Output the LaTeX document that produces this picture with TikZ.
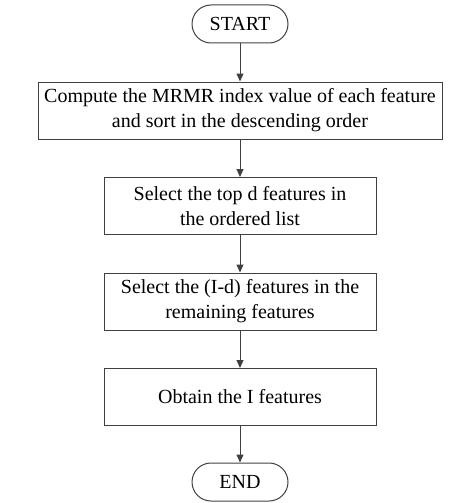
\documentclass[tikz,border=0pt]{standalone}
\usepackage{fontspec}
\setmainfont{Liberation Serif}
\usetikzlibrary{arrows.meta}
\definecolor{linec}{HTML}{404040}
\begin{document}
\begin{tikzpicture}[x=1pt,y=-1pt,
  txt/.style={font=\fontsize{20}{25}\selectfont, text=black},
  box/.style={txt, draw=linec, line width=1pt, minimum width=272pt, minimum height=57pt, align=center, inner sep=0pt},
  pill/.style={txt, draw=linec, line width=1pt, rounded corners=19pt, minimum width=96pt, minimum height=38pt, inner sep=0pt},
  arr/.style={draw=linec, line width=1pt, -{Triangle[length=8pt,width=7pt]}}]
\useasboundingbox (0,0) rectangle (458,503);
\node[pill] (start) at (240,24) {START};
\node[box, minimum width=404pt] (b1) at (240,110.5) {Compute the MRMR index value of each feature\\and sort in the descending order};
\node[box] (b2) at (240,206) {Select the top d features in\\the ordered list};
\node[box] (b3) at (240,301.5) {Select the (I-d) features in the\\remaining features};
\node[box] (b4) at (240,397) {Obtain the I features};
\node[pill] (end) at (240,482) {END};
\draw[arr] (start) -- (b1);
\draw[arr] (b1) -- (b2);
\draw[arr] (b2) -- (b3);
\draw[arr] (b3) -- (b4);
\draw[arr] (b4) -- (end);
\end{tikzpicture}
\end{document}
